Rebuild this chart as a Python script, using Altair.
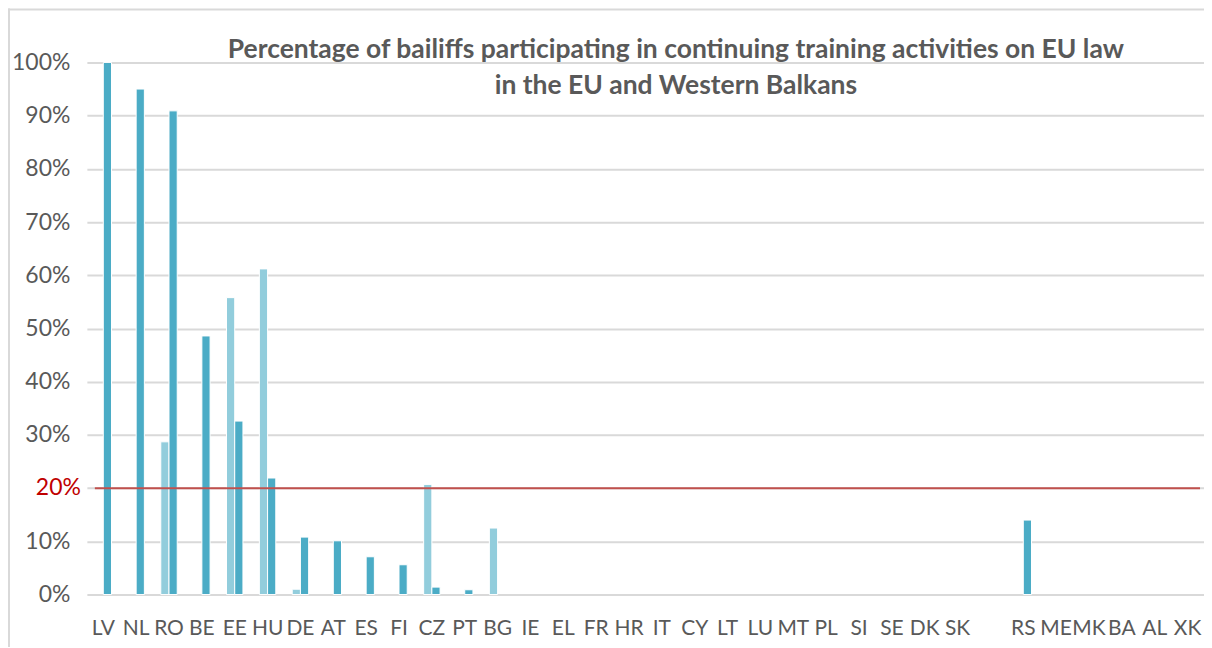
import altair as alt
import pandas as pd

categories = ["LV", "NL", "RO", "BE", "EE", "HU", "DE", "AT", "ES", "FI", "CZ", "PT", "BG",
              "IE", "EL", "FR", "HR", "IT", "CY", "LT", "LU", "MT", "PL", "SI", "SE", "DK", "SK",
              "", "RS", "ME", "MK", "BA", "AL", "XK"]
series_names = ["Series 1", "Series 2"]

light_countries = ["RO", "EE", "HU", "DE", "CZ", "BG"]
light_values = [0.287, 0.558, 0.612, 0.010, 0.207, 0.125]

dark_countries = ["LV", "NL", "RO", "BE", "EE", "HU", "DE", "AT", "ES", "FI", "CZ", "PT", "RS"]
dark_values = [1.00, 0.95, 0.909, 0.486, 0.326, 0.219, 0.108, 0.101, 0.071, 0.056, 0.014, 0.009, 0.14]

threshold = 0.20
threshold_label = "20%"
y_ticks = [0, 0.1, 0.2, 0.3, 0.4, 0.5, 0.6, 0.7, 0.8, 0.9, 1.0]
title_lines = ["Percentage of bailiffs participating in continuing training activities on EU law",
               "in the EU and Western Balkans"]

rows = [{"country": c, "series": series_names[0], "value": v} for c, v in zip(light_countries, light_values)]
rows += [{"country": c, "series": series_names[1], "value": v} for c, v in zip(dark_countries, dark_values)]
df = pd.DataFrame(rows)
one = pd.DataFrame({"k": [0]})

W, H = 1119, 533
FONT = "Lato"
GRAY = "#595959"

bars = alt.Chart(df).mark_bar(stroke="white", strokeWidth=1).encode(
    x=alt.X("country:N", sort=categories,
            scale=alt.Scale(domain=categories, paddingInner=0.5, paddingOuter=0.25),
            axis=alt.Axis(title=None, labelAngle=0, ticks=False, domain=False, grid=False,
                          labelFont=FONT, labelFontSize=21, labelColor=GRAY,
                          labelPadding=23, labelOverlap=False)),
    xOffset=alt.XOffset("series:N", scale=alt.Scale(domain=series_names)),
    y=alt.Y("value:Q", scale=alt.Scale(domain=[0, 1]),
            axis=alt.Axis(title=None, format="%", values=y_ticks, ticks=False, domain=False,
                          grid=True, gridColor="#D9D9D9", gridWidth=2,
                          labelFont=FONT, labelFontSize=23, labelColor=GRAY, labelPadding=17,
                          labelExpr="datum.value == 0.2 ? '' : datum.label")),
    color=alt.Color("series:N", scale=alt.Scale(domain=series_names, range=["#92CDDC", "#4BACC6"]),
                    legend=None),
)

rule = alt.Chart(one).mark_rule(color="#C0504D", strokeWidth=2).encode(
    y=alt.datum(threshold),
    x=alt.value(8),
    x2=alt.value(W - 4),
)

rule_label = alt.Chart(one).mark_text(color="#C00000", font=FONT, fontSize=23, align="right",
                                      baseline="middle").encode(
    y=alt.datum(threshold),
    x=alt.value(-6),
    text=alt.value(threshold_label),
)

title = alt.Chart(one).mark_text(color=GRAY, font=FONT, fontSize=26.5, fontWeight="bold",
                                 align="center", baseline="alphabetic", lineHeight=36).encode(
    x=alt.value(590),
    y=alt.value(-4),
    text=alt.value(title_lines),
)

frame_top = alt.Chart(one).mark_rule(color="#D9D9D9", strokeWidth=2).encode(
    x=alt.value(-79), x2=alt.value(W + 10), y=alt.value(-53),
)
frame_left = alt.Chart(one).mark_rule(color="#D9D9D9", strokeWidth=2).encode(
    x=alt.value(-78), y=alt.value(-54), y2=alt.value(H + 60),
)

chart = alt.layer(frame_top, frame_left, bars, rule, rule_label, title).properties(
    width=W, height=H,
    autosize=alt.AutoSizeParams(type="none"),
    padding={"left": 79, "top": 54, "right": 0, "bottom": 52},
).configure_view(stroke=None)

chart.save("out.html", embed_options={"renderer": "svg", "actions": False})
